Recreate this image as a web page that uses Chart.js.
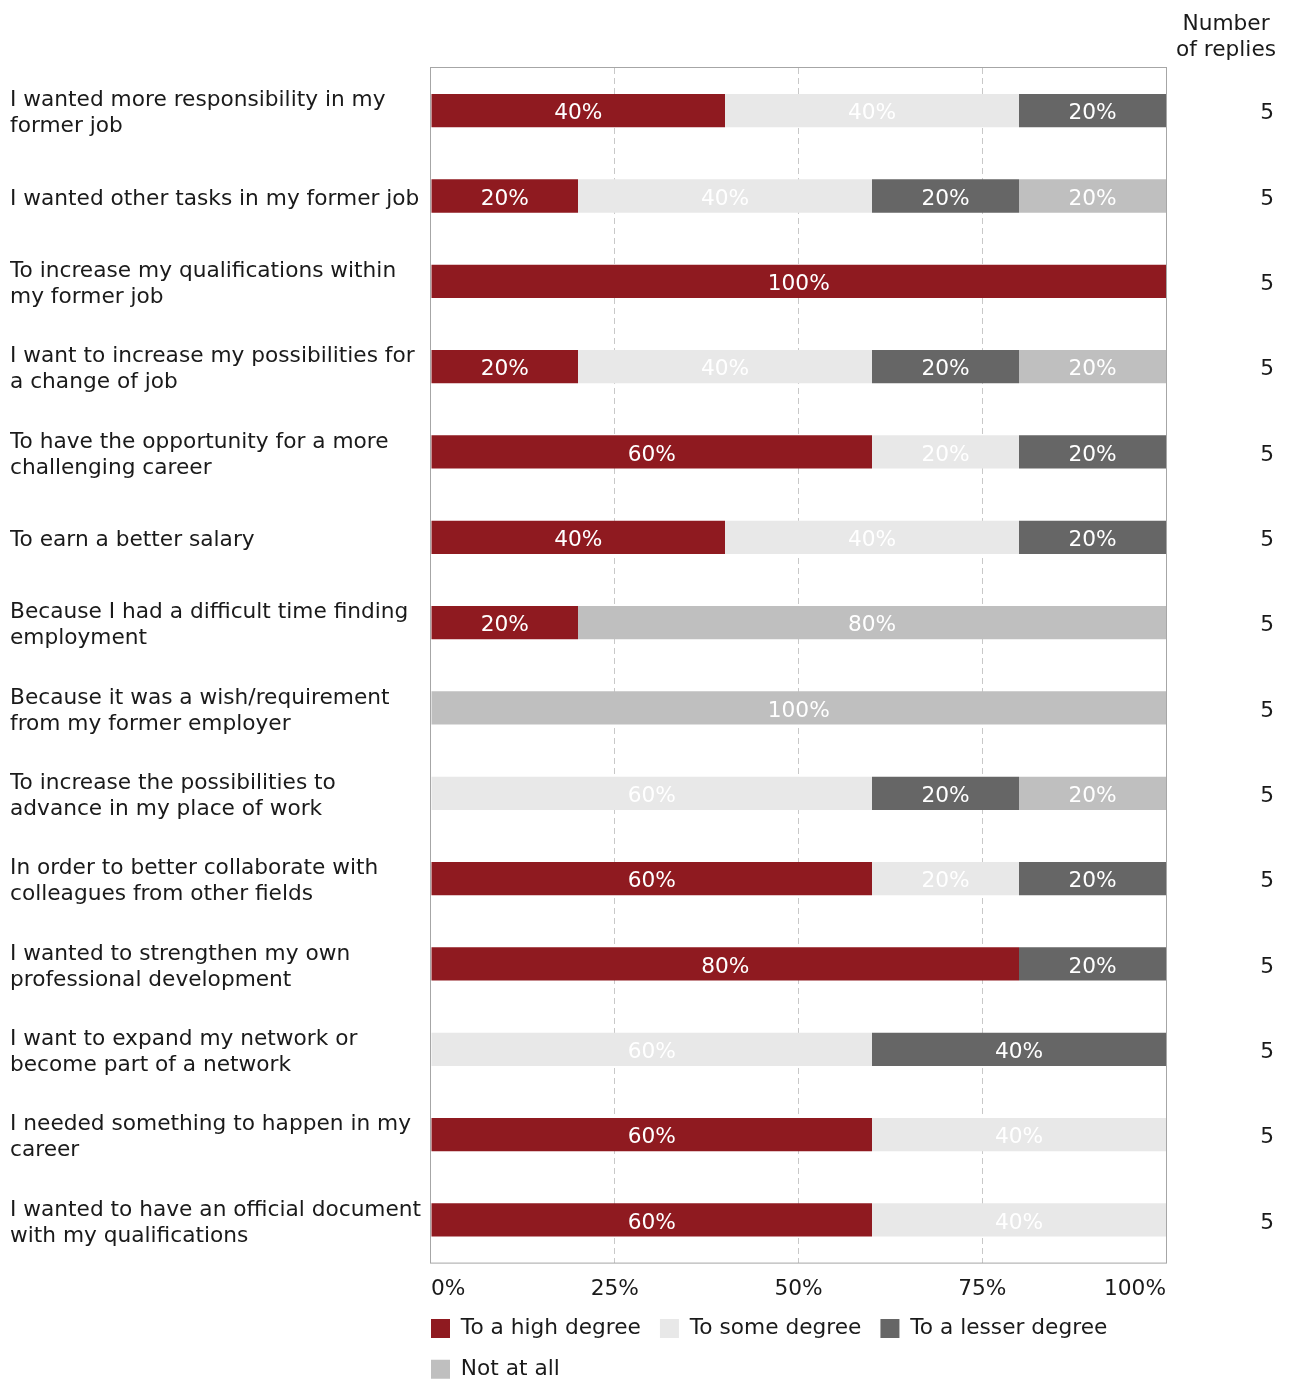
<!DOCTYPE html>
<html>
<head>
<meta charset="utf-8">
<script src="https://cdn.jsdelivr.net/npm/chart.js@4"></script>
<style>
  html, body { margin: 0; padding: 0; background: #fff; }
  #wrap { width: 1289px; height: 1380px; }
</style>
</head>
<body>
<div id="wrap"><canvas id="myChart" width="1289" height="1380"></canvas></div>
<script>
const categories = [
  ['I wanted more responsibility in my', 'former job'],
  'I wanted other tasks in my former job',
  ['To increase my qualifications within', 'my former job'],
  ['I want to increase my possibilities for', 'a change of job'],
  ['To have the opportunity for a more', 'challenging career'],
  'To earn a better salary',
  ['Because I had a difficult time finding', 'employment'],
  ['Because it was a wish/requirement', 'from my former employer'],
  ['To increase the possibilities to', 'advance in my place of work'],
  ['In order to better collaborate with', 'colleagues from other fields'],
  ['I wanted to strengthen my own', 'professional development'],
  ['I want to expand my network or', 'become part of a network'],
  ['I needed something to happen in my', 'career'],
  ['I wanted to have an official document', 'with my qualifications']
];

const highDegree   = [40, 20, 100, 20, 60, 40, 20, 0, 0, 60, 80, 0, 60, 60];
const someDegree   = [40, 40, 0, 40, 20, 40, 0, 0, 60, 20, 0, 60, 40, 40];
const lesserDegree = [20, 20, 0, 20, 20, 20, 0, 0, 20, 20, 20, 40, 0, 0];
const notAtAll     = [0, 20, 0, 20, 0, 0, 80, 100, 20, 0, 0, 0, 0, 0];

const replies = [5, 5, 5, 5, 5, 5, 5, 5, 5, 5, 5, 5, 5, 5];
const replyTitle = ['Number', 'of replies'];

const FONT = 'DejaVu Sans';
const FSIZE = 21.7;
const TEXT = '#1a1a1a';
const LEGEND_PAD = 19;

// white value text in the middle of every segment
const valueLabels = {
  id: 'valueLabels',
  afterDatasetsDraw(chart) {
    const ctx = chart.ctx;
    ctx.save();
    ctx.font = FSIZE + 'px "' + FONT + '"';
    ctx.fillStyle = '#fff';
    ctx.textAlign = 'center';
    ctx.textBaseline = 'middle';
    chart.data.datasets.forEach((ds, i) => {
      const meta = chart.getDatasetMeta(i);
      meta.data.forEach((bar, j) => {
        const v = ds.data[j];
        if (!v) return;
        const { x, base, y } = bar.getProps(['x', 'base', 'y'], true);
        ctx.fillText(v + '%', (x + base) / 2, y + 3);
      });
    });
    ctx.restore();
  }
};

// grey frame round the plot area
const plotFrame = {
  id: 'plotFrame',
  beforeDatasetsDraw(chart) {
    const { ctx, chartArea: a } = chart;
    ctx.save();
    ctx.strokeStyle = '#a6a6a6';
    ctx.lineWidth = 1;
    ctx.strokeRect(a.left - 0.5, a.top - 0.5, a.right - a.left + 1, a.bottom - a.top + 1);
    ctx.restore();
  }
};

// "Number of replies" heading over the right column
const replyHeading = {
  id: 'replyHeading',
  afterDraw(chart) {
    const ctx = chart.ctx;
    ctx.save();
    ctx.font = FSIZE + 'px "' + FONT + '"';
    ctx.fillStyle = TEXT;
    ctx.textAlign = 'center';
    ctx.textBaseline = 'middle';
    replyTitle.forEach((line, i) => ctx.fillText(line, 1226, 24 + i * 26));
    ctx.restore();
  }
};

// legend starts flush with the plot's left edge
const legendShift = {
  id: 'legendShift',
  afterLayout(chart) {
    if (chart.legend) {
      chart.legend.left -= LEGEND_PAD;
      chart.legend.right -= LEGEND_PAD;
    }
  }
};

const data = {
  labels: categories,
  datasets: [
    { label: 'To a high degree', data: highDegree, backgroundColor: '#8f1a20' },
    { label: 'To some degree', data: someDegree, backgroundColor: '#e8e8e8' },
    { label: 'To a lesser degree', data: lesserDegree, backgroundColor: '#666666' },
    { label: 'Not at all', data: notAtAll, backgroundColor: '#bfbfbf' }
  ]
};

const ctx = document.getElementById('myChart').getContext('2d');
const myChart = new Chart(ctx, {
  type: 'bar',
  data: data,
  plugins: [plotFrame, valueLabels, replyHeading, legendShift],
  options: {
    indexAxis: 'y',
    responsive: false,
    animation: false,
    datasets: {
      bar: { categoryPercentage: 1, barPercentage: 0.39, borderWidth: 0 }
    },
    layout: { padding: { left: 10, right: 15, top: 68, bottom: -10 } },
    scales: {
      x: {
        stacked: true,
        min: 0,
        max: 100,
        ticks: {
          stepSize: 25,
          align: 'inner',
          padding: 14,
          color: TEXT,
          font: { family: FONT, size: FSIZE },
          callback: (v) => v + '%'
        },
        grid: {
          drawTicks: false,
          color: (c) => (c.tick && (c.tick.value === 0 || c.tick.value === 100)) ? 'rgba(0,0,0,0)' : '#c8c8c8'
        },
        border: { display: false, dash: [6, 4] },
        afterFit: (scale) => { scale.height = 36; }
      },
      y: {
        stacked: true,
        grid: { display: false },
        border: { display: false },
        ticks: {
          crossAlign: 'far',
          labelOffset: 3,
          color: TEXT,
          font: { family: FONT, size: FSIZE, lineHeight: '26px' }
        },
        afterFit: (scale) => { scale.width = 421; }
      },
      replies: {
        type: 'category',
        axis: 'y',
        position: 'right',
        offset: true,
        labels: replies.map(String),
        grid: { display: false },
        border: { display: false },
        ticks: {
          crossAlign: 'far',
          labelOffset: 3,
          color: TEXT,
          font: { family: FONT, size: FSIZE }
        },
        afterFit: (scale) => { scale.width = 108; }
      }
    },
    plugins: {
      legend: {
        position: 'bottom',
        align: 'start',
        fullSize: false,
        labels: {
          boxWidth: 19,
          boxHeight: 19,
          padding: LEGEND_PAD,
          color: TEXT,
          font: { family: FONT, size: FSIZE }
        }
      },
      tooltip: { enabled: false }
    }
  }
});
</script>
</body>
</html>
